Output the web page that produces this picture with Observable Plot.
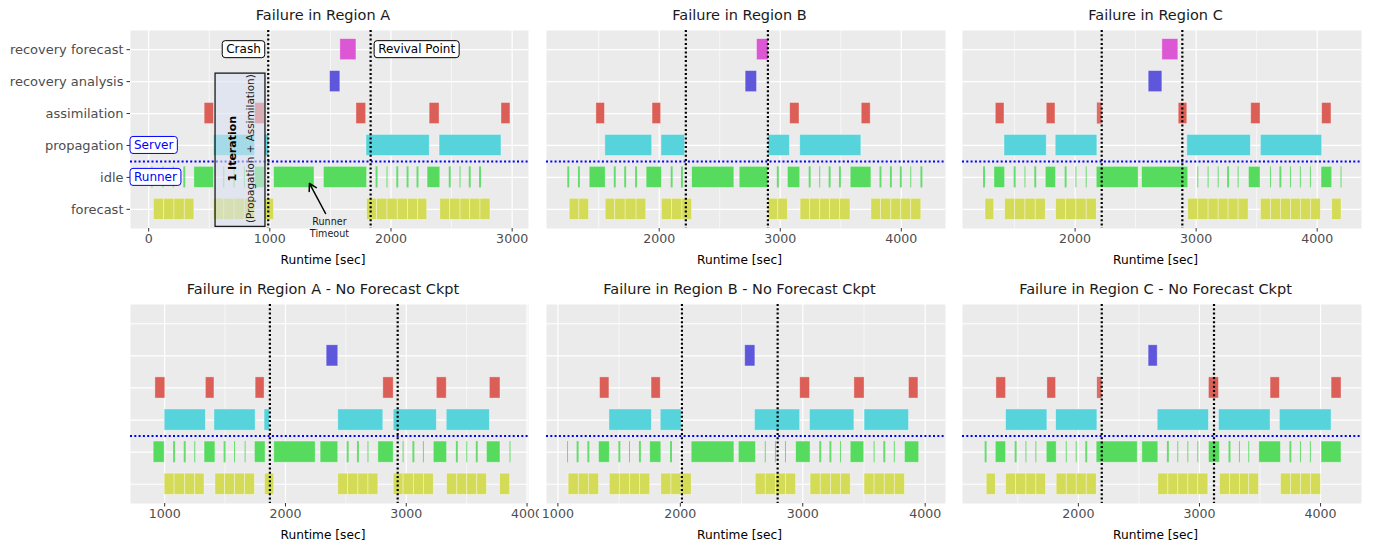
<!DOCTYPE html>
<html>
<head>
<meta charset="utf-8">
<script src="https://cdn.jsdelivr.net/npm/d3@7"></script>
<script src="https://cdn.jsdelivr.net/npm/@observablehq/plot@0.6"></script>
<style>
  body { margin: 0; background: #fff; }
  #chart { position: relative; width: 1374px; height: 542px; font-family: "DejaVu Sans", sans-serif; overflow: hidden; }
  #chart svg { position: absolute; }
</style>
</head>
<body>
<div id="chart"></div>
<script>
// Task rows, bottom to top
const tasks = ["forecast", "idle", "propagation", "assimilation", "recovery analysis", "recovery forecast"];
const taskColors = ["#D3DB57", "#57DB5F", "#57D3DB", "#DB5F57", "#5F57DB", "#DB57D3"];

const titles = [
  "Failure in Region A", "Failure in Region B", "Failure in Region C",
  "Failure in Region A - No Forecast Ckpt", "Failure in Region B - No Forecast Ckpt", "Failure in Region C - No Forecast Ckpt"
];

const ticksA = [0, 1000, 2000, 3000];
const ticksB = [2000, 3000, 4000];
const ticksC = [2000, 3000, 4000];
const ticksD = [1000, 2000, 3000, 4000];
const ticksE = [1000, 2000, 3000, 4000];
const ticksF = [2000, 3000, 4000];

// Failure (crash) and recovery (revival) times, seconds
const crashTimes = [987, 2220, 2220, 1871, 2013, 2193];
const revivalTimes = [1832, 2898, 2886, 2929, 2795, 3120];

// [task, start, end] in seconds
const regionA = [
  ["forecast", 43, 128], ["forecast", 128, 213], ["forecast", 213, 298], ["forecast", 298, 377],
  ["forecast", 539, 624], ["forecast", 624, 709], ["forecast", 709, 794], ["forecast", 794, 879],
  ["forecast", 958, 1035],
  ["forecast", 1803, 1885], ["forecast", 1885, 1971], ["forecast", 1971, 2056], ["forecast", 2056, 2141], ["forecast", 2141, 2223], ["forecast", 2223, 2299],
  ["forecast", 2407, 2489], ["forecast", 2489, 2574], ["forecast", 2574, 2654], ["forecast", 2654, 2739], ["forecast", 2739, 2821],
  ["propagation", 539, 879], ["propagation", 964, 992], ["propagation", 1798, 2320], ["propagation", 2401, 2912],
  ["assimilation", 462, 539], ["assimilation", 879, 958], ["assimilation", 1715, 1795], ["assimilation", 2319, 2401], ["assimilation", 2912, 2986],
  ["recovery analysis", 1497, 1582],
  ["recovery forecast", 1582, 1715],
  ["idle", 27, 35], ["idle", 118, 126], ["idle", 203, 211], ["idle", 290, 306], ["idle", 377, 539],
  ["idle", 620, 628], ["idle", 705, 713], ["idle", 790, 798], ["idle", 879, 958], ["idle", 1035, 1369], ["idle", 1446, 1803],
  ["idle", 1877, 1893], ["idle", 1967, 1975], ["idle", 2048, 2064], ["idle", 2133, 2149], ["idle", 2215, 2231], ["idle", 2302, 2407],
  ["idle", 2481, 2497], ["idle", 2570, 2578], ["idle", 2646, 2662], ["idle", 2731, 2747]
];

const regionB = [
  ["forecast", 1261, 1341], ["forecast", 1341, 1420],
  ["forecast", 1558, 1637], ["forecast", 1637, 1723], ["forecast", 1723, 1813], ["forecast", 1813, 1893],
  ["forecast", 2022, 2107], ["forecast", 2107, 2192], ["forecast", 2192, 2272],
  ["forecast", 2904, 2984], ["forecast", 2984, 3063],
  ["forecast", 3168, 3247], ["forecast", 3247, 3330], ["forecast", 3330, 3412], ["forecast", 3412, 3495], ["forecast", 3495, 3580],
  ["forecast", 3753, 3832], ["forecast", 3832, 3918], ["forecast", 3918, 4000], ["forecast", 4000, 4082], ["forecast", 4082, 4165],
  ["propagation", 1555, 1942], ["propagation", 2019, 2214], ["propagation", 2904, 3080], ["propagation", 3165, 3670],
  ["assimilation", 1481, 1552], ["assimilation", 1945, 2016], ["assimilation", 3082, 3159], ["assimilation", 3673, 3747],
  ["recovery analysis", 2714, 2808],
  ["recovery forecast", 2808, 2904],
  ["idle", 1245, 1261], ["idle", 1333, 1349], ["idle", 1426, 1558], ["idle", 1629, 1645], ["idle", 1715, 1731], ["idle", 1805, 1821],
  ["idle", 1896, 2022], ["idle", 2099, 2115], ["idle", 2184, 2200], ["idle", 2272, 2621], ["idle", 2665, 2901],
  ["idle", 2976, 2992], ["idle", 3063, 3165], ["idle", 3239, 3255], ["idle", 3326, 3334], ["idle", 3404, 3420], ["idle", 3489, 3505],
  ["idle", 3582, 3753], ["idle", 3824, 3840], ["idle", 3910, 3926], ["idle", 3992, 4008], ["idle", 4078, 4086], ["idle", 4162, 4178]
];

const regionC = [
  ["forecast", 1260, 1332],
  ["forecast", 1422, 1505], ["forecast", 1505, 1590], ["forecast", 1590, 1675], ["forecast", 1675, 1758],
  ["forecast", 1843, 1926], ["forecast", 1926, 2011], ["forecast", 2011, 2096], ["forecast", 2096, 2179],
  ["forecast", 2935, 3018], ["forecast", 3018, 3103], ["forecast", 3103, 3186], ["forecast", 3186, 3268], ["forecast", 3268, 3351], ["forecast", 3351, 3433],
  ["forecast", 3535, 3618], ["forecast", 3618, 3700], ["forecast", 3700, 3783], ["forecast", 3783, 3865], ["forecast", 3865, 3948], ["forecast", 3948, 4030],
  ["forecast", 4124, 4201],
  ["propagation", 1417, 1766], ["propagation", 1840, 2184], ["propagation", 2927, 3452], ["propagation", 3535, 4041],
  ["assimilation", 1345, 1417], ["assimilation", 1766, 1838], ["assimilation", 2184, 2223], ["assimilation", 2856, 2927], ["assimilation", 3455, 3532], ["assimilation", 4041, 4118],
  ["recovery analysis", 2608, 2721],
  ["recovery forecast", 2721, 2853],
  ["idle", 1244, 1260], ["idle", 1334, 1422], ["idle", 1497, 1513], ["idle", 1586, 1594], ["idle", 1667, 1683],
  ["idle", 1758, 1843], ["idle", 1918, 1934], ["idle", 2007, 2015], ["idle", 2092, 2100], ["idle", 2179, 2525], ["idle", 2553, 2935],
  ["idle", 3014, 3022], ["idle", 3099, 3107], ["idle", 3182, 3190], ["idle", 3260, 3276], ["idle", 3347, 3355], ["idle", 3436, 3532],
  ["idle", 3614, 3622], ["idle", 3692, 3708], ["idle", 3779, 3787], ["idle", 3861, 3869], ["idle", 3944, 3952], ["idle", 4036, 4124], ["idle", 4197, 4205]
];

const regionANoCkpt = [
  ["forecast", 1000, 1082], ["forecast", 1082, 1170], ["forecast", 1170, 1253], ["forecast", 1253, 1330],
  ["forecast", 1420, 1500], ["forecast", 1500, 1582], ["forecast", 1582, 1665], ["forecast", 1665, 1747],
  ["forecast", 1830, 1907],
  ["forecast", 2437, 2519], ["forecast", 2519, 2604], ["forecast", 2604, 2687], ["forecast", 2687, 2769],
  ["forecast", 2896, 2978], ["forecast", 2978, 3063], ["forecast", 3063, 3146], ["forecast", 3146, 3228],
  ["forecast", 3338, 3423], ["forecast", 3423, 3505], ["forecast", 3505, 3588], ["forecast", 3588, 3668],
  ["forecast", 3777, 3860],
  ["propagation", 1000, 1341], ["propagation", 1412, 1753], ["propagation", 1827, 1871], ["propagation", 2437, 2810], ["propagation", 2896, 3253], ["propagation", 3335, 3692],
  ["assimilation", 923, 1005], ["assimilation", 1341, 1412], ["assimilation", 1753, 1827], ["assimilation", 2810, 2896], ["assimilation", 3253, 3335], ["assimilation", 3692, 3780],
  ["recovery analysis", 2341, 2437],
  ["idle", 909, 1000], ["idle", 1074, 1090], ["idle", 1162, 1178], ["idle", 1249, 1257], ["idle", 1330, 1420],
  ["idle", 1492, 1508], ["idle", 1578, 1586], ["idle", 1666, 1674], ["idle", 1747, 1835], ["idle", 1907, 2250], ["idle", 2291, 2437],
  ["idle", 2511, 2527], ["idle", 2596, 2612], ["idle", 2683, 2691], ["idle", 2769, 2896],
  ["idle", 2974, 2982], ["idle", 3055, 3071], ["idle", 3142, 3150], ["idle", 3228, 3338],
  ["idle", 3415, 3431], ["idle", 3501, 3509], ["idle", 3580, 3596], ["idle", 3668, 3780], ["idle", 3859, 3867]
];

const regionBNoCkpt = [
  ["forecast", 1088, 1171], ["forecast", 1171, 1253], ["forecast", 1253, 1336],
  ["forecast", 1424, 1506], ["forecast", 1506, 1589], ["forecast", 1589, 1672], ["forecast", 1672, 1754],
  ["forecast", 1845, 1928], ["forecast", 1928, 2010], ["forecast", 2010, 2093],
  ["forecast", 2616, 2698], ["forecast", 2698, 2781], ["forecast", 2781, 2863], ["forecast", 2863, 2946],
  ["forecast", 3064, 3147], ["forecast", 3147, 3230], ["forecast", 3230, 3312], ["forecast", 3312, 3392],
  ["forecast", 3505, 3587], ["forecast", 3587, 3670], ["forecast", 3670, 3752], ["forecast", 3752, 3835],
  ["propagation", 1421, 1768], ["propagation", 1840, 2010], ["propagation", 2610, 2979], ["propagation", 3059, 3422], ["propagation", 3505, 3868],
  ["assimilation", 1344, 1421], ["assimilation", 1765, 1840], ["assimilation", 2979, 3059], ["assimilation", 3422, 3505], ["assimilation", 3868, 3945],
  ["recovery analysis", 2530, 2613],
  ["idle", 1079, 1087], ["idle", 1157, 1173], ["idle", 1245, 1261], ["idle", 1336, 1424],
  ["idle", 1498, 1514], ["idle", 1585, 1593], ["idle", 1666, 1682], ["idle", 1754, 1845], ["idle", 1920, 1936],
  ["idle", 2093, 2442], ["idle", 2478, 2618], ["idle", 2694, 2702], ["idle", 2777, 2785], ["idle", 2859, 2867], ["idle", 2946, 3064],
  ["idle", 3139, 3155], ["idle", 3222, 3238], ["idle", 3308, 3316], ["idle", 3392, 3502],
  ["idle", 3583, 3591], ["idle", 3662, 3678], ["idle", 3748, 3756], ["idle", 3835, 3951]
];

const regionCNoCkpt = [
  ["forecast", 1243, 1318],
  ["forecast", 1403, 1486], ["forecast", 1486, 1571], ["forecast", 1571, 1653], ["forecast", 1653, 1733],
  ["forecast", 1821, 1904], ["forecast", 1904, 1986], ["forecast", 1986, 2069], ["forecast", 2069, 2151],
  ["forecast", 2660, 2743], ["forecast", 2743, 2825], ["forecast", 2825, 2908], ["forecast", 2908, 2990], ["forecast", 2990, 3073],
  ["forecast", 3169, 3252], ["forecast", 3252, 3334], ["forecast", 3334, 3411], ["forecast", 3411, 3491],
  ["forecast", 3673, 3755], ["forecast", 3755, 3838], ["forecast", 3838, 3920], ["forecast", 3920, 4003],
  ["propagation", 1403, 1744], ["propagation", 1816, 2157], ["propagation", 2655, 3078], ["propagation", 3161, 3587], ["propagation", 3664, 4091],
  ["assimilation", 1323, 1403], ["assimilation", 1744, 1816], ["assimilation", 2157, 2195], ["assimilation", 3078, 3161], ["assimilation", 3587, 3664], ["assimilation", 4091, 4173],
  ["recovery analysis", 2580, 2655],
  ["idle", 1230, 1246], ["idle", 1318, 1403], ["idle", 1478, 1494], ["idle", 1567, 1575], ["idle", 1649, 1657],
  ["idle", 1739, 1821], ["idle", 1900, 1908], ["idle", 1982, 1990], ["idle", 2061, 2077], ["idle", 2151, 2490], ["idle", 2528, 2660],
  ["idle", 2735, 2751], ["idle", 2821, 2829], ["idle", 2904, 2912], ["idle", 2986, 2994], ["idle", 3078, 3169],
  ["idle", 3244, 3260], ["idle", 3330, 3338], ["idle", 3407, 3415], ["idle", 3494, 3673],
  ["idle", 3747, 3763], ["idle", 3834, 3842], ["idle", 3916, 3924], ["idle", 4008, 4173]
];

// Span of one propagation + assimilation cycle highlighted in the first panel
const iterationSpan = [552, 964];

// ---------------------------------------------------------------------------

const FONT = "DejaVu Sans";
const ctx = document.createElement("canvas").getContext("2d");
function textWidth(text, size) {
  ctx.font = `${size}px "${FONT}"`;
  return ctx.measureText(text).width;
}

// Text in a rounded white box, placed in data coordinates
function boxedLabels(items) {
  return (index, scales) => {
    const g = d3.create("svg:g");
    for (const {x, y, text, side, gap, color} of items) {
      const size = 12;
      const w = textWidth(text, size) + 8, h = 17;
      const px = scales.x(x), py = scales.y(y);
      const x0 = side === "left" ? px - gap - w : px + gap;
      g.append("rect")
        .attr("x", x0).attr("y", py - h / 2).attr("width", w).attr("height", h)
        .attr("rx", 3).attr("fill", "white").attr("stroke", color).attr("stroke-width", 1);
      g.append("text")
        .attr("x", x0 + w / 2).attr("y", py).attr("dy", "0.36em")
        .attr("text-anchor", "middle").attr("fill", color)
        .attr("font-family", FONT).attr("font-size", size)
        .text(text);
    }
    return g.node();
  };
}

const panels = [
  {title: titles[0], data: regionA, ticks: ticksA, crash: crashTimes[0], revival: revivalTimes[0], left: 130, top: 30, w: 398, h: 198, domain: [-150, 3135], yAxis: true, notes: true},
  {title: titles[1], data: regionB, ticks: ticksB, crash: crashTimes[1], revival: revivalTimes[1], left: 546, top: 30, w: 399, h: 198, domain: [1069, 4365]},
  {title: titles[2], data: regionC, ticks: ticksC, crash: crashTimes[2], revival: revivalTimes[2], left: 962, top: 30, w: 399, h: 198, domain: [1070, 4366]},
  {title: titles[3], data: regionANoCkpt, ticks: ticksD, crash: crashTimes[3], revival: revivalTimes[3], left: 130, top: 304, w: 398, h: 199, domain: [717, 4012], clipRight: 11},
  {title: titles[4], data: regionBNoCkpt, ticks: ticksE, crash: crashTimes[4], revival: revivalTimes[4], left: 546, top: 304, w: 399, h: 199, domain: [907, 4166]},
  {title: titles[5], data: regionCNoCkpt, ticks: ticksF, crash: crashTimes[5], revival: revivalTimes[5], left: 962, top: 304, w: 399, h: 199, domain: [1043, 4338]}
];

const rowPositions = tasks.map((t, i) => i + 1);
const halfBar = 0.33;

function drawPanel(p) {
  const ml = p.yAxis ? p.left : 15;
  const mr = p.clipRight ?? 14;
  const mt = 30, mb = 42;
  const bars = p.data.map(([task, start, end]) => ({task, start, end, row: tasks.indexOf(task) + 1}));
  const minor = d3.range(Math.ceil(p.domain[0] / 500) * 500, p.domain[1], 500).filter(v => v % 1000 !== 0);
  const barY = {y1: d => d.row - halfBar, y2: d => d.row + halfBar};

  const marks = [
    Plot.frame({fill: "#EBEBEB", stroke: "none"}),
    Plot.gridX(minor, {stroke: "white", strokeOpacity: 1, strokeWidth: 0.6}),
    Plot.gridX(p.ticks, {stroke: "white", strokeOpacity: 1, strokeWidth: 1.2}),
    Plot.gridY(rowPositions, {stroke: "white", strokeOpacity: 1, strokeWidth: 1.2}),
    // long tasks get a light outline; short idle slivers are drawn plain
    Plot.rect(bars, {
      filter: d => d.end - d.start > 40,
      x1: "start", x2: "end", ...barY,
      fill: "task", stroke: "white", strokeOpacity: 0.45, strokeWidth: 0.8
    }),
    Plot.rect(bars, {
      filter: d => d.end - d.start <= 40,
      x1: "start", x2: "end", ...barY,
      fill: "task", fillOpacity: 0.9
    }),
    // server / runner divide
    Plot.ruleY([2.5], {stroke: "blue", strokeWidth: 2, strokeDasharray: "2,2.3"})
  ];

  if (p.notes) {
    marks.push(
      Plot.rect([iterationSpan], {
        x1: d => d[0], x2: d => d[1], y1: 0.45, y2: 5.25,
        fill: "#d8e1f2", fillOpacity: 0.6, stroke: "#1a1a1a", strokeWidth: 1.3
      }),
      Plot.text([iterationSpan], {
        x: d => (d[0] + d[1]) / 2, y: 2.9, dx: -8, rotate: -90, lineAnchor: "middle",
        text: () => "1 Iteration", fontWeight: "bold", fontSize: 11, fill: "black", fontFamily: FONT
      }),
      Plot.text([iterationSpan], {
        x: d => (d[0] + d[1]) / 2, y: 2.9, dx: 10, rotate: -90, lineAnchor: "middle",
        text: () => "(Propagation + Assimilation)", fontSize: 10.4, fill: "#1a1a1a", fontFamily: FONT
      }),
      Plot.arrow([p.data.find(d => d[0] === "idle" && d[1] === 1035)], {
        x1: 1460, y1: 0.87, x2: d => d[2] - 42, y2: 1.81,
        stroke: "black", strokeWidth: 1.5, headLength: 8, insetEnd: 0
      }),
      Plot.text(["Runner\nTimeout"], {
        x: 1492, y: 0.43, text: d => d, fontSize: 9.6, lineHeight: 1.25, lineAnchor: "middle", fill: "#1a1a1a", fontFamily: FONT
      })
    );
  }

  marks.push(
    Plot.ruleX([p.crash, p.revival], {stroke: "black", strokeWidth: 2.2, strokeDasharray: "2,2.3"})
  );

  if (p.notes) {
    marks.push(
      boxedLabels([
        {x: p.crash, y: 6, text: "Crash", side: "left", gap: 3, color: "black"},
        {x: p.revival, y: 6, text: "Revival Point", side: "right", gap: 4, color: "black"},
        {x: p.domain[0], y: 3, text: "Server", side: "right", gap: 0, color: "blue"},
        {x: p.domain[0], y: 2, text: "Runner", side: "right", gap: 0, color: "blue"}
      ])
    );
  }

  marks.push(
    Plot.axisX(p.ticks, {
      tickSize: 3.5, tickPadding: 2.5, fontSize: 12.6, fill: "#4D4D4D", stroke: "#333",
      tickFormat: d => String(d), label: null, fontFamily: FONT
    }),
    Plot.text([p.title], {frameAnchor: "top", dx: -6.5, dy: -15, lineAnchor: "middle", text: d => d, fontSize: 14.5, fill: "#1a1a1a", fontFamily: FONT}),
    Plot.text(["Runtime [sec]"], {frameAnchor: "bottom", dx: -6.5, dy: 32, lineAnchor: "middle", text: d => d, fontSize: 12.2, fill: "black", fontFamily: FONT})
  );

  if (p.yAxis) {
    marks.push(Plot.axisY(rowPositions, {
      tickFormat: d => tasks[d - 1], tickSize: 3.5, tickPadding: 3.5, fontSize: 13,
      fill: "#4D4D4D", stroke: "#333", label: null, fontFamily: FONT
    }));
  }

  const svg = Plot.plot({
    width: ml + p.w + mr,
    height: mt + p.h + mb,
    marginLeft: ml, marginRight: mr, marginTop: mt, marginBottom: mb,
    x: {domain: p.domain},
    y: {domain: [0.4, 6.6], axis: p.yAxis ? undefined : null},
    color: {domain: tasks, range: taskColors},
    style: {background: "none", fontFamily: FONT},
    marks
  });
  svg.style.left = `${p.left - ml}px`;
  svg.style.top = `${p.top - mt}px`;
  document.getElementById("chart").appendChild(svg);
}

panels.forEach(drawPanel);
</script>
</body>
</html>
